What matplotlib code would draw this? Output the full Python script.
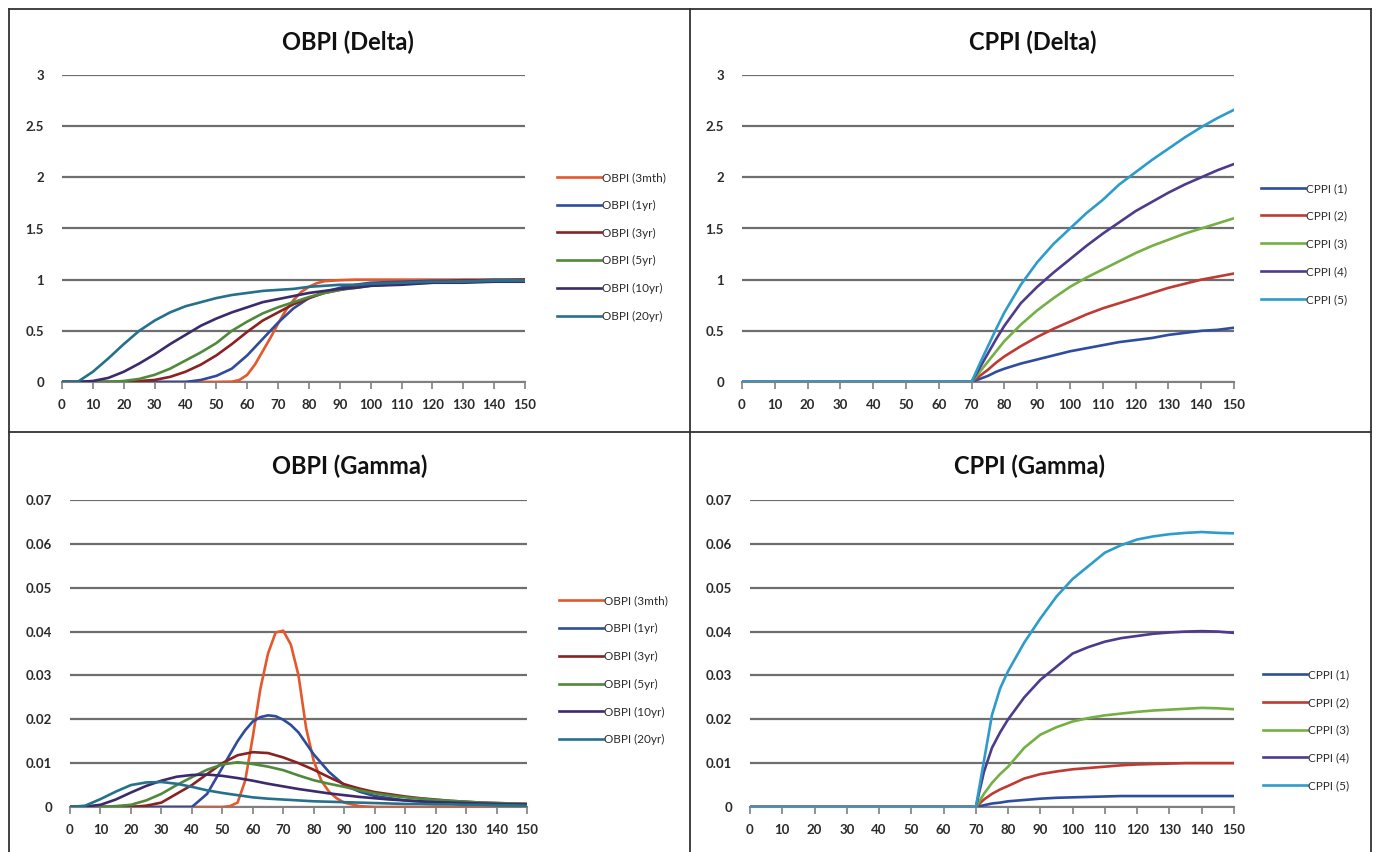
import matplotlib
matplotlib.use('Agg')
import matplotlib.pyplot as plt
from matplotlib.lines import Line2D
import numpy as np

plt.rcParams['font.family'] = ['Lato', 'DejaVu Sans']

# x grid shared by most series (every 5 units, 0..150)
x = np.arange(0, 151, 5)

# ---- OBPI (Delta) ----
obpi_labels = ['OBPI (3mth)', 'OBPI (1yr)', 'OBPI (3yr)', 'OBPI (5yr)', 'OBPI (10yr)', 'OBPI (20yr)']
obpi_colors = ['#E4582B', '#2F4B9B', '#8A2222', '#4F8A3C', '#3B2B6C', '#25718C']

# steep 3mth curve read on a finer grid
x_3mth = [0, 50, 55, 57.5, 60, 62.5, 65, 67.5, 70, 72.5, 75, 77.5, 80, 82.5, 85, 90, 95, 150]
d_3mth = [0, 0, 0.003, 0.02, 0.07, 0.17, 0.3, 0.43, 0.57, 0.7, 0.8, 0.88, 0.93, 0.965, 0.985, 0.995, 1.0, 1.0]
d_1yr = [0, 0, 0, 0, 0, 0, 0, 0, 0, 0.02, 0.06, 0.13, 0.26, 0.42, 0.58, 0.72, 0.82, 0.88, 0.92, 0.95,
         0.97, 0.975, 0.98, 0.985, 0.99, 0.99, 0.995, 0.995, 1.0, 1.0, 1.0]
d_3yr = [0, 0, 0, 0, 0, 0.01, 0.02, 0.05, 0.1, 0.17, 0.26, 0.37, 0.49, 0.6, 0.68, 0.76, 0.82, 0.87, 0.9, 0.93,
         0.95, 0.96, 0.97, 0.975, 0.98, 0.985, 0.99, 0.99, 0.99, 0.995, 1.0]
d_5yr = [0, 0, 0, 0, 0.01, 0.03, 0.07, 0.13, 0.21, 0.29, 0.38, 0.5, 0.59, 0.67, 0.73, 0.78, 0.83, 0.87, 0.9, 0.92,
         0.94, 0.95, 0.96, 0.965, 0.97, 0.975, 0.98, 0.985, 0.99, 0.99, 0.99]
d_10yr = [0, 0, 0.01, 0.04, 0.1, 0.18, 0.27, 0.37, 0.46, 0.55, 0.62, 0.68, 0.73, 0.78, 0.81, 0.84, 0.87, 0.89, 0.91, 0.92,
          0.94, 0.945, 0.95, 0.96, 0.97, 0.97, 0.97, 0.975, 0.98, 0.98, 0.98]
d_20yr = [0, 0, 0.1, 0.23, 0.37, 0.5, 0.6, 0.68, 0.74, 0.78, 0.82, 0.85, 0.87, 0.89, 0.9, 0.91, 0.93, 0.94, 0.95, 0.95,
          0.96, 0.965, 0.97, 0.975, 0.98, 0.98, 0.98, 0.985, 0.99, 0.99, 0.99]

# ---- OBPI (Gamma) ----
xg_3mth = [0, 50, 52.5, 55, 57.5, 60, 62.5, 65, 67.5, 70, 72.5, 75, 77.5, 80, 82.5, 85, 87.5, 90, 95, 100, 150]
g_3mth = [0, 0, 0.0002, 0.001, 0.006, 0.016, 0.027, 0.035, 0.0398, 0.0402, 0.037, 0.030, 0.018, 0.0105, 0.006,
          0.0035, 0.002, 0.001, 0.0002, 0, 0]
xg_1yr = [0, 40, 45, 50, 52.5, 55, 57.5, 60, 62.5, 65, 67.5, 70, 72.5, 75, 77.5, 80, 85, 90, 95, 100,
          110, 120, 130, 140, 150]
g_1yr = [0, 0, 0.003, 0.009, 0.012, 0.015, 0.0175, 0.0195, 0.0205, 0.0209, 0.0207, 0.0199, 0.0187, 0.017, 0.0145,
         0.012, 0.008, 0.005, 0.0035, 0.0025, 0.0015, 0.001, 0.0007, 0.0005, 0.0004]
g_3yr = [0, 0, 0, 0, 0, 0.0003, 0.001, 0.003, 0.005, 0.0075, 0.01, 0.0118, 0.0125, 0.0123, 0.0113, 0.0100, 0.0085, 0.0068, 0.0052, 0.0042,
         0.0034, 0.0029, 0.0024, 0.002, 0.0017, 0.0014, 0.0012, 0.001, 0.0009, 0.0008, 0.0007]
g_5yr = [0, 0, 0, 0.0002, 0.0005, 0.0015, 0.003, 0.005, 0.0068, 0.0085, 0.0097, 0.0102, 0.0098, 0.0092, 0.0084, 0.0072, 0.0061, 0.0053, 0.0046, 0.0038,
         0.0031, 0.0026, 0.0022, 0.0019, 0.0016, 0.0014, 0.0012, 0.001, 0.0009, 0.0008, 0.0007]
g_10yr = [0, 0.0001, 0.0005, 0.0017, 0.0033, 0.0048, 0.006, 0.0069, 0.0073, 0.0074, 0.0071, 0.0066, 0.006, 0.0053, 0.0047, 0.0041, 0.0036, 0.0031, 0.0027, 0.0023,
          0.002, 0.0017, 0.0015, 0.0013, 0.0011, 0.001, 0.0009, 0.0008, 0.0007, 0.0006, 0.0006]
g_20yr = [0, 0.0003, 0.0018, 0.0035, 0.005, 0.0056, 0.0057, 0.0053, 0.0046, 0.0038, 0.0032, 0.0027, 0.0022, 0.0019, 0.0017, 0.0015, 0.0013, 0.0012, 0.0011, 0.001,
          0.0009, 0.0008, 0.0007, 0.0007, 0.0006, 0.0006, 0.0005, 0.0005, 0.0004, 0.0004, 0.0003]

# ---- CPPI: zero up to 70, then read on a finer grid near the kink ----
cppi_labels = ['CPPI (1)', 'CPPI (2)', 'CPPI (3)', 'CPPI (4)', 'CPPI (5)']
cppi_colors = ['#2E4DA0', '#BE3A32', '#74B043', '#4E3B8C', '#2E9CCA']

xc = [0, 70, 72.5, 75, 77.5, 80, 85, 90, 95, 100, 105, 110, 115, 120, 125, 130, 135, 140, 145, 150]

c1 = [0, 0, 0.03, 0.06, 0.1, 0.13, 0.18, 0.22, 0.26, 0.3, 0.33, 0.36, 0.39, 0.41, 0.43, 0.46, 0.48, 0.5, 0.51, 0.53]
c2 = [0, 0, 0.06, 0.12, 0.19, 0.25, 0.35, 0.44, 0.52, 0.59, 0.66, 0.72, 0.77, 0.82, 0.87, 0.92, 0.96, 1.0, 1.03, 1.06]
c3 = [0, 0, 0.1, 0.2, 0.3, 0.4, 0.56, 0.7, 0.82, 0.93, 1.02, 1.1, 1.18, 1.26, 1.33, 1.39, 1.45, 1.5, 1.55, 1.6]
c4 = [0, 0, 0.14, 0.28, 0.42, 0.55, 0.77, 0.93, 1.07, 1.2, 1.33, 1.45, 1.56, 1.67, 1.76, 1.85, 1.93, 2.0, 2.07, 2.13]
c5 = [0, 0, 0.18, 0.35, 0.52, 0.68, 0.95, 1.17, 1.35, 1.5, 1.65, 1.78, 1.93, 2.05, 2.17, 2.28, 2.39, 2.49, 2.58, 2.66]

cg1 = [0, 0, 0.0004, 0.0008, 0.001, 0.0013, 0.0016, 0.0019, 0.0021, 0.0022, 0.0023, 0.0024, 0.0025, 0.0025, 0.0025, 0.0025, 0.0025, 0.0025, 0.0025, 0.0025]
cg2 = [0, 0, 0.0017, 0.003, 0.004, 0.0048, 0.0065, 0.0075, 0.0081, 0.0086, 0.0089, 0.0092, 0.0095, 0.0097, 0.0098, 0.0099, 0.01, 0.01, 0.01, 0.01]
cg3 = [0, 0, 0.003, 0.0055, 0.0075, 0.0092, 0.0135, 0.0165, 0.0182, 0.0195, 0.0203, 0.0209, 0.0213, 0.0217, 0.022, 0.0222, 0.0224, 0.0226, 0.0225, 0.0223]
cg4 = [0, 0, 0.008, 0.0135, 0.017, 0.02, 0.025, 0.029, 0.032, 0.035, 0.0365, 0.0377, 0.0385, 0.039, 0.0395, 0.0398, 0.04, 0.0401, 0.04, 0.0397]
cg5 = [0, 0, 0.0105, 0.021, 0.027, 0.031, 0.0375, 0.043, 0.048, 0.052, 0.055, 0.058, 0.0597, 0.061, 0.0617, 0.0622, 0.0625, 0.0627, 0.0625, 0.0624]

delta_ticks = [0, 0.5, 1, 1.5, 2, 2.5, 3]
delta_ticklabels = ['0', '0.5', '1', '1.5', '2', '2.5', '3']
gamma_ticks = [0, 0.01, 0.02, 0.03, 0.04, 0.05, 0.06, 0.07]
gamma_ticklabels = ['0', '0.01', '0.02', '0.03', '0.04', '0.05', '0.06', '0.07']
x_ticks = list(range(0, 151, 10))

W, H = 1376, 852
fig = plt.figure(figsize=(W / 100, H / 100), dpi=100)


def px_axes(x0, x1, ytop, ybot):
    return fig.add_axes([x0 / W, 1 - ybot / H, (x1 - x0) / W, (ybot - ytop) / H])


def style(ax, ymax, yt, ytl, leg_anchor):
    ax.set_xlim(0, 150)
    ax.set_ylim(0, ymax)
    ax.set_yticks(yt)
    ax.set_yticklabels(ytl)
    ax.set_xticks(x_ticks)
    for s in ['top', 'right', 'left']:
        ax.spines[s].set_visible(False)
    ax.spines['bottom'].set_color('#808080')
    ax.spines['bottom'].set_linewidth(1.5)
    ax.spines['bottom'].set_zorder(1)
    ax.grid(axis='y', color='#6E6E6E', linewidth=1.6)
    ax.set_axisbelow(True)
    ax.tick_params(axis='y', length=0, pad=13, labelsize=9.5, labelcolor='#2A2A2A')
    ax.tick_params(axis='x', length=5, width=1.2, color='#808080', direction='out',
                   pad=7, labelsize=9.5, labelcolor='#2A2A2A')
    for lab in ax.get_xticklabels() + ax.get_yticklabels():
        lab.set_fontweight('bold')
    leg = ax.legend(loc='center left', bbox_to_anchor=leg_anchor, frameon=False,
                    fontsize=8.5, handlelength=3.7, handletextpad=0.1, labelspacing=1.42,
                    borderpad=0, borderaxespad=0)
    for t in leg.get_texts():
        t.set_color('#2A2A2A')


# top-left: OBPI (Delta)
ax1 = px_axes(62, 525, 75, 382)
obpi_delta = [(x_3mth, d_3mth), (x, d_1yr), (x, d_3yr), (x, d_5yr), (x, d_10yr), (x, d_20yr)]
for (xs, ys), lab, col in zip(obpi_delta, obpi_labels, obpi_colors):
    ax1.plot(xs, ys, color=col, linewidth=1.9, label=lab)
style(ax1, 3, delta_ticks, delta_ticklabels, (1.07, 0.44))

# top-right: CPPI (Delta)
ax2 = px_axes(742, 1234, 75, 382)
for ys, lab, col in zip([c1, c2, c3, c4, c5], cppi_labels, cppi_colors):
    ax2.plot(xc, ys, color=col, linewidth=1.9, label=lab)
style(ax2, 3, delta_ticks, delta_ticklabels, (1.055, 0.45))

# bottom-left: OBPI (Gamma)
ax3 = px_axes(70, 527, 500, 807)
obpi_gamma = [(xg_3mth, g_3mth), (xg_1yr, g_1yr), (x, g_3yr), (x, g_5yr), (x, g_10yr), (x, g_20yr)]
for (xs, ys), lab, col in zip(obpi_gamma, obpi_labels, obpi_colors):
    ax3.plot(xs, ys, color=col, linewidth=1.9, label=lab)
style(ax3, 0.07, gamma_ticks, gamma_ticklabels, (1.07, 0.445))

# bottom-right: CPPI (Gamma)
ax4 = px_axes(750, 1234, 500, 807)
for ys, lab, col in zip([cg1, cg2, cg3, cg4, cg5], cppi_labels, cppi_colors):
    ax4.plot(xc, ys, color=col, linewidth=1.9, label=lab)
style(ax4, 0.07, gamma_ticks, gamma_ticklabels, (1.06, 0.25))

# titles
for tx, ty, t in [(348, 42, 'OBPI (Delta)'), (1033, 42, 'CPPI (Delta)'),
                  (350, 466, 'OBPI (Gamma)'), (1030, 466, 'CPPI (Gamma)')]:
    fig.text(tx / W, 1 - ty / H, t, ha='center', va='center', fontsize=17,
             fontweight='bold', color='#111111')

# panel frame lines
frame = [((9, 9), (9, 852)), ((9, 1371), (9, 9)), ((1371, 1371), (9, 852)),
         ((690, 690), (9, 852)), ((9, 1371), (432, 432))]
for xs, ys in frame:
    fig.add_artist(Line2D([v / W for v in xs], [1 - v / H for v in ys],
                          color='#333333', linewidth=1.3))

fig.savefig('out.png', dpi=100)
